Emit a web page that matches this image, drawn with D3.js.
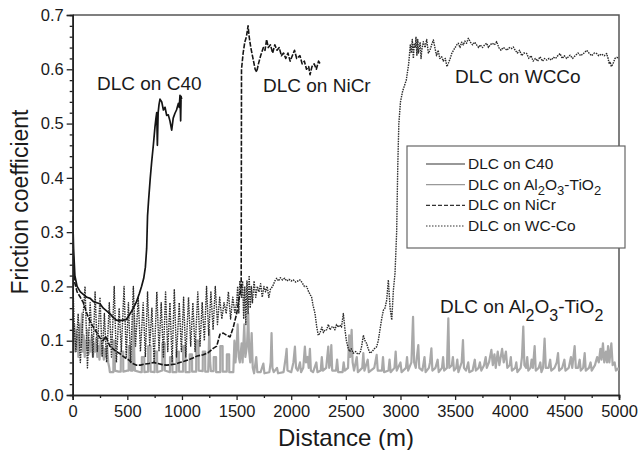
<!DOCTYPE html>
<html>
<head>
<meta charset="utf-8">
<script src="https://cdn.jsdelivr.net/npm/d3@7"></script>
<style>
  body { margin: 0; background: #fff; }
  svg { font-family: "Liberation Sans", Arial, sans-serif; }
</style>
</head>
<body>
<div id="chart"></div>
<script>
// tick labels
const xTicks = [0, 500, 1000, 1500, 2000, 2500, 3000, 3500, 4000, 4500, 5000];
const xMinor = [250, 750, 1250, 1750, 2250, 2750, 3250, 3750, 4250, 4750];
const yTicks = [0, 0.1, 0.2, 0.3, 0.4, 0.5, 0.6, 0.7];
const yMinor = [0.02, 0.04, 0.06, 0.08, 0.12, 0.14, 0.16, 0.18, 0.22, 0.24, 0.26, 0.28,
  0.32, 0.34, 0.36, 0.38, 0.42, 0.44, 0.46, 0.48, 0.52, 0.54, 0.56, 0.58, 0.62, 0.64, 0.66, 0.68];

// DLC on C40  [distance, friction]
const c40 = [[0,0.33],[8,0.27],[20,0.22],[40,0.2],[70,0.19],[100,0.185],[130,0.18],[160,0.178],[190,0.172],
  [220,0.17],[250,0.168],[280,0.16],[310,0.155],[340,0.15],[370,0.143],[400,0.138],[430,0.137],[460,0.138],
  [490,0.139],[520,0.148],[550,0.158],[580,0.17],[610,0.187],[630,0.2],[650,0.215],[665,0.235],[677,0.27],
  [685,0.33],[695,0.36],[710,0.4],[723,0.43],[738,0.46],[753,0.494],[762,0.51],[769,0.52],[775,0.46],
  [782,0.52],[790,0.535],[799,0.545],[815,0.54],[830,0.525],[845,0.53],[860,0.515],[875,0.516],[890,0.505],
  [906,0.488],[920,0.51],[936,0.519],[950,0.525],[967,0.537],[975,0.53],[982,0.552],[988,0.505],[992,0.55],[997,0.545]];

// DLC on Al2O3-TiO2
const alTi = [[0,0.15],[8,0.1],[15,0.13],[22,0.08],[30,0.12],[38,0.09],[45,0.11],[52,0.07],[60,0.1],[68,0.13],
  [75,0.09],[85,0.15],[92,0.08],[100,0.11],[110,0.07],[118,0.1],[126,0.085],[135,0.12],[145,0.075],[155,0.1],
  [165,0.08],[175,0.11],[185,0.07],[195,0.095],[205,0.08],[215,0.105],[225,0.07],[235,0.09],[245,0.065],
  [255,0.1],[265,0.075],[275,0.09],[285,0.065],[295,0.085],[305,0.07],[315,0.09],[325,0.06],[335,0.05],
  [340,0.042],[372,0.042],[373,0.1],[385,0.1],[386,0.045],[420,0.043],[440,0.043],[441,0.08],[462,0.08],
  [463,0.043],[500,0.045],[512,0.045],[513,0.09],[530,0.09],[531,0.045],[550,0.045],[558,0.15],[565,0.06],
  [570,0.045],[620,0.042],[632,0.042],[633,0.07],[655,0.07],[656,0.042],[690,0.043],[691,0.09],[712,0.09],
  [713,0.043],[750,0.042],[751,0.08],[772,0.08],[773,0.042],[820,0.045],[821,0.095],[842,0.095],[843,0.045],
  [890,0.042],[891,0.07],[912,0.07],[913,0.042],[950,0.042],[951,0.08],[972,0.08],[973,0.043],[1010,0.043],
  [1011,0.09],[1032,0.09],[1033,0.042],[1070,0.042],[1071,0.075],[1092,0.075],[1093,0.043],[1130,0.043],
  [1131,0.1],[1152,0.1],[1153,0.045],[1190,0.044],[1191,0.08],[1212,0.08],[1213,0.043],[1240,0.043],
  [1250,0.12],[1258,0.06],[1265,0.044],[1290,0.044],[1291,0.07],[1312,0.07],[1313,0.042],[1350,0.042],
  [1351,0.09],[1372,0.09],[1373,0.043],[1410,0.043],[1411,0.075],[1432,0.075],[1433,0.042],[1470,0.042],
  [1480,0.1],[1490,0.06],[1500,0.09],[1510,0.13],[1520,0.07],[1530,0.06],[1546,0.095],[1555,0.06],[1570,0.13],
  [1580,0.07],[1595,0.09],[1607,0.15],[1615,0.08],[1625,0.06],[1638,0.114],[1648,0.05],[1660,0.04],[1680,0.07],
  [1690,0.042],[1720,0.042],[1745,0.058],[1755,0.04],[1800,0.042],[1812,0.06],[1820,0.114],[1828,0.05],
  [1840,0.042],[1870,0.05],[1880,0.04],[1930,0.042],[1950,0.07],[1958,0.085],[1966,0.045],[2000,0.042],
  [2020,0.06],[2034,0.089],[2044,0.05],[2060,0.045],[2080,0.06],[2090,0.042],[2110,0.05],[2125,0.089],
  [2135,0.06],[2150,0.07],[2160,0.05],[2171,0.085],[2180,0.045],[2200,0.042],[2230,0.06],[2240,0.042],
  [2270,0.045],[2280,0.07],[2290,0.045],[2320,0.05],[2339,0.089],[2348,0.05],[2360,0.06],[2367,0.092],
  [2375,0.045],[2410,0.045],[2420,0.065],[2430,0.042],[2470,0.042],[2480,0.06],[2490,0.045],[2520,0.05],
  [2530,0.11],[2540,0.07],[2553,0.12],[2562,0.06],[2575,0.045],[2600,0.07],[2610,0.042],[2650,0.05],
  [2660,0.077],[2670,0.045],[2700,0.065],[2710,0.042],[2760,0.05],[2782,0.074],[2792,0.045],[2830,0.045],
  [2840,0.07],[2850,0.042],[2890,0.045],[2900,0.065],[2910,0.042],[2945,0.05],[2956,0.08],[2966,0.045],
  [3000,0.06],[3010,0.042],[3050,0.05],[3060,0.07],[3070,0.045],[3100,0.06],[3115,0.144],[3125,0.06],
  [3140,0.05],[3150,0.07],[3163,0.092],[3172,0.05],[3200,0.045],[3220,0.07],[3230,0.042],[3260,0.05],
  [3270,0.06],[3283,0.086],[3292,0.045],[3320,0.05],[3340,0.065],[3350,0.042],[3380,0.05],[3390,0.07],
  [3400,0.045],[3425,0.05],[3438,0.141],[3447,0.05],[3470,0.055],[3480,0.07],[3490,0.045],[3510,0.05],
  [3520,0.065],[3530,0.042],[3560,0.06],[3572,0.101],[3581,0.05],[3600,0.045],[3620,0.06],[3630,0.042],
  [3660,0.045],[3680,0.065],[3690,0.045],[3715,0.05],[3727,0.06],[3740,0.045],[3765,0.055],[3780,0.07],
  [3790,0.05],[3810,0.06],[3832,0.083],[3845,0.055],[3860,0.075],[3872,0.05],[3890,0.08],[3905,0.055],
  [3930,0.085],[3945,0.06],[3965,0.08],[3978,0.05],[4000,0.055],[4010,0.07],[4020,0.045],[4050,0.05],
  [4060,0.06],[4070,0.042],[4100,0.05],[4112,0.07],[4124,0.126],[4134,0.055],[4150,0.05],[4160,0.07],
  [4170,0.045],[4190,0.05],[4200,0.065],[4212,0.05],[4228,0.09],[4238,0.045],[4265,0.05],[4280,0.06],
  [4290,0.042],[4305,0.05],[4319,0.104],[4330,0.05],[4355,0.05],[4370,0.065],[4380,0.045],[4410,0.05],
  [4430,0.06],[4442,0.077],[4452,0.045],[4480,0.05],[4500,0.065],[4510,0.045],[4540,0.05],[4560,0.07],
  [4572,0.05],[4594,0.09],[4605,0.05],[4625,0.05],[4640,0.065],[4650,0.045],[4672,0.05],[4686,0.077],
  [4696,0.045],[4725,0.05],[4740,0.06],[4750,0.045],[4780,0.055],[4800,0.07],[4815,0.06],[4830,0.085],
  [4840,0.065],[4853,0.095],[4865,0.06],[4880,0.08],[4890,0.06],[4900,0.09],[4912,0.06],[4930,0.095],
  [4942,0.055],[4960,0.06],[4972,0.045],[4991,0.049],[5000,0.045]];

// DLC on NiCr
const niCr = [[0,0.28],[15,0.21],[40,0.19],[70,0.18],[97,0.17],[130,0.15],[160,0.135],[189,0.125],[220,0.115],
  [250,0.105],[280,0.1],[300,0.108],[320,0.1],[340,0.09],[370,0.085],[400,0.08],[433,0.076],[470,0.07],
  [510,0.065],[550,0.058],[585,0.055],[620,0.055],[660,0.057],[700,0.058],[740,0.06],[780,0.058],[820,0.056],
  [860,0.055],[900,0.056],[940,0.057],[980,0.06],[1020,0.062],[1060,0.065],[1100,0.068],[1140,0.072],
  [1195,0.074],[1240,0.078],[1286,0.086],[1318,0.09],[1348,0.112],[1378,0.114],[1410,0.11],[1440,0.107],
  [1470,0.125],[1501,0.15],[1520,0.175],[1535,0.19],[1542,0.2],[1545,0.6],[1560,0.63],[1575,0.65],
  [1590,0.66],[1605,0.68],[1615,0.66],[1630,0.64],[1650,0.62],[1670,0.6],[1684,0.595],[1700,0.61],
  [1720,0.625],[1745,0.64],[1760,0.635],[1775,0.655],[1790,0.64],[1810,0.645],[1830,0.63],[1850,0.645],
  [1870,0.635],[1890,0.64],[1910,0.625],[1930,0.63],[1950,0.62],[1970,0.63],[1990,0.615],[2010,0.625],
  [2030,0.635],[2050,0.62],[2080,0.625],[2100,0.61],[2120,0.615],[2140,0.6],[2160,0.605],[2172,0.59],
  [2190,0.605],[2210,0.61],[2230,0.6],[2250,0.615],[2265,0.61]];

// DLC on WC-Co
const wcCo = [[0,0.22],[15,0.12],[30,0.08],[50,0.15],[70,0.06],[90,0.13],[113,0.2],[135,0.05],[160,0.17],
  [185,0.07],[205,0.19],[225,0.08],[250,0.18],[270,0.07],[290,0.15],[310,0.06],[335,0.17],[355,0.07],
  [380,0.2],[400,0.06],[425,0.16],[445,0.08],[470,0.2],[490,0.07],[510,0.17],[530,0.06],[555,0.2],[575,0.09],
  [600,0.18],[620,0.08],[645,0.17],[665,0.07],[685,0.19],[705,0.09],[725,0.16],[745,0.06],[770,0.19],
  [790,0.08],[810,0.17],[830,0.07],[850,0.19],[870,0.08],[890,0.17],[910,0.06],[930,0.195],[950,0.07],
  [975,0.17],[995,0.08],[1015,0.18],[1035,0.07],[1060,0.18],[1080,0.09],[1100,0.17],[1120,0.08],[1145,0.19],
  [1165,0.09],[1185,0.17],[1205,0.1],[1225,0.2],[1245,0.11],[1265,0.19],[1285,0.12],[1305,0.2],[1325,0.13],
  [1345,0.18],[1365,0.14],[1385,0.17],[1405,0.15],[1425,0.19],[1445,0.14],[1465,0.18],[1485,0.15],
  [1500,0.17],[1510,0.2],[1520,0.15],[1530,0.21],[1545,0.18],[1555,0.21],[1565,0.14],[1575,0.2],[1585,0.13],
  [1595,0.21],[1605,0.15],[1615,0.22],[1625,0.16],[1635,0.2],[1645,0.17],[1660,0.21],[1675,0.18],[1690,0.2],
  [1705,0.19],[1720,0.205],[1735,0.18],[1750,0.2],[1765,0.19],[1780,0.2],[1795,0.18],[1810,0.195],[1830,0.2],
  [1850,0.21],[1867,0.215],[1885,0.21],[1900,0.216],[1920,0.212],[1940,0.215],[1960,0.21],[1980,0.213],
  [2000,0.21],[2020,0.212],[2040,0.208],[2060,0.21],[2080,0.212],[2100,0.207],[2120,0.2],[2141,0.2],
  [2160,0.19],[2187,0.18],[2200,0.165],[2218,0.15],[2233,0.126],[2248,0.11],[2263,0.114],[2280,0.125],
  [2295,0.115],[2310,0.12],[2324,0.12],[2340,0.13],[2355,0.12],[2370,0.125],[2385,0.126],[2400,0.12],
  [2415,0.13],[2430,0.125],[2446,0.129],[2460,0.125],[2477,0.15],[2485,0.135],[2492,0.12],[2505,0.1],
  [2522,0.086],[2535,0.08],[2550,0.085],[2568,0.077],[2590,0.08],[2610,0.075],[2630,0.077],[2645,0.09],
  [2660,0.11],[2675,0.1],[2690,0.095],[2705,0.085],[2721,0.077],[2740,0.08],[2760,0.085],[2782,0.089],
  [2797,0.1],[2812,0.12],[2828,0.14],[2843,0.156],[2858,0.16],[2874,0.175],[2889,0.212],[2905,0.16],
  [2920,0.138],[2935,0.193],[2950,0.224],[2965,0.3],[2975,0.42],[2985,0.5],[3000,0.54],[3020,0.56],
  [3053,0.58],[3075,0.61],[3090,0.645],[3099,0.63],[3108,0.655],[3118,0.62],[3126,0.648],[3135,0.64],
  [3142,0.66],[3150,0.625],[3158,0.655],[3165,0.63],[3180,0.65],[3188,0.62],[3195,0.635],[3209,0.651],
  [3225,0.64],[3240,0.655],[3255,0.63],[3270,0.635],[3285,0.645],[3301,0.654],[3315,0.64],[3330,0.625],
  [3345,0.635],[3360,0.62],[3377,0.623],[3392,0.615],[3410,0.62],[3425,0.605],[3438,0.611],[3455,0.62],
  [3469,0.629],[3485,0.635],[3500,0.64],[3515,0.645],[3529,0.648],[3545,0.64],[3560,0.65],[3575,0.645],
  [3590,0.652],[3605,0.648],[3621,0.657],[3640,0.65],[3660,0.645],[3680,0.65],[3697,0.645],[3715,0.64],
  [3730,0.645],[3750,0.64],[3770,0.645],[3789,0.648],[3805,0.64],[3820,0.645],[3840,0.648],[3860,0.645],
  [3880,0.651],[3900,0.64],[3920,0.635],[3940,0.64],[3957,0.638],[3975,0.635],[3995,0.64],[4015,0.638],
  [4033,0.641],[4050,0.635],[4070,0.63],[4090,0.635],[4110,0.625],[4130,0.63],[4155,0.629],[4175,0.62],
  [4195,0.625],[4215,0.615],[4235,0.62],[4255,0.615],[4277,0.623],[4300,0.615],[4320,0.62],[4338,0.617],
  [4360,0.62],[4380,0.617],[4400,0.622],[4420,0.62],[4440,0.625],[4460,0.629],[4480,0.62],[4500,0.625],
  [4520,0.62],[4552,0.626],[4575,0.62],[4600,0.625],[4625,0.63],[4650,0.625],[4680,0.63],[4704,0.635],
  [4725,0.63],[4750,0.625],[4775,0.63],[4796,0.629],[4815,0.625],[4840,0.628],[4865,0.625],[4887,0.629],
  [4900,0.62],[4910,0.61],[4918,0.614],[4930,0.605],[4945,0.61],[4963,0.62],[4980,0.622],[5000,0.62]];

const series = [
  { name: "DLC on C40", data: c40, color: "#151515", width: 1.7, dash: null, legendWidth: 1.2 },
  { name: "DLC on Al2O3-TiO2", data: alTi, color: "#a9a9a9", width: 2.2, dash: null, legendWidth: 1.2 },
  { name: "DLC on NiCr", data: niCr, color: "#151515", width: 1.6, dash: "5,1.5", legendWidth: 1.2 },
  { name: "DLC on WC-Co", data: wcCo, color: "#2a2a2a", width: 1.4, dash: "1.5,1", legendWidth: 1.1 }
];

const W = 638, H = 450;
const svg = d3.select("#chart").append("svg").attr("width", W).attr("height", H);

const x = d3.scaleLinear().domain([0, 5000]).range([72.7, 619]);
const y = d3.scaleLinear().domain([0, 0.7]).range([395, 15]);

svg.append("defs").append("clipPath").attr("id", "clip")
  .append("rect").attr("x", 72.7).attr("y", 15).attr("width", 619 - 72.7).attr("height", 380);

// frame (top and right)
svg.append("path")
  .attr("d", `M72.7,15H619V395`)
  .attr("fill", "none").attr("stroke", "#555").attr("stroke-width", 1.5);

const line = d3.line().x(d => x(d[0])).y(d => y(d[1]));

const plot = svg.append("g").attr("clip-path", "url(#clip)");
// gray first so the dark lines sit on top
[1, 3, 2, 0].forEach(i => {
  const s = series[i];
  plot.append("path")
    .datum(s.data)
    .attr("d", line)
    .attr("fill", "none")
    .attr("stroke", s.color)
    .attr("stroke-width", s.width)
    .attr("stroke-dasharray", s.dash)
    .attr("stroke-linejoin", "round");
});

// axes
svg.append("g").attr("transform", "translate(0,395)")
  .call(d3.axisBottom(x).tickValues(xTicks).tickSize(5).tickPadding(5).tickFormat(d3.format("d")));
svg.append("g").attr("transform", "translate(0,395)")
  .call(d3.axisBottom(x).tickValues(xMinor).tickSize(3).tickFormat(""));
svg.append("g").attr("transform", "translate(72.7,0)")
  .call(d3.axisLeft(y).tickValues(yTicks).tickSize(6).tickPadding(3).tickFormat(d3.format(".1f")));
svg.append("g").attr("transform", "translate(72.7,0)")
  .call(d3.axisLeft(y).tickValues(yMinor).tickSize(3).tickFormat(""));

svg.selectAll(".domain").attr("stroke", "#222").attr("stroke-width", 1.6);
svg.selectAll(".tick line").attr("stroke", "#222").attr("stroke-width", 1.3);
svg.selectAll(".tick text").attr("fill", "#1a1a1a").style("font-size", "16.5px")
  .style("font-family", "'Liberation Sans', Arial, sans-serif");

// axis titles
svg.append("text")
  .attr("transform", "translate(28,202) rotate(-90)")
  .attr("text-anchor", "middle")
  .style("font-size", "23px").attr("fill", "#1a1a1a")
  .text("Friction coefficient");
svg.append("text")
  .attr("x", 346).attr("y", 446)
  .attr("text-anchor", "middle")
  .style("font-size", "24px").attr("fill", "#1a1a1a")
  .text("Distance (m)");

// annotations (sub = baseline shift, subSize = subscript font size)
function addLabel(px, py, parts, size, subSize) {
  const t = svg.append("text").attr("x", px).attr("y", py)
    .style("font-size", size + "px").attr("fill", "#1a1a1a");
  parts.forEach(p => {
    const ts = t.append("tspan").text(p.t);
    if (p.sub) ts.attr("dy", p.sub);
    if (p.sub > 0) ts.style("font-size", subSize + "px");
  });
  return t;
}
addLabel(97, 90, [{ t: "DLC on C40" }], 19);
addLabel(263, 92, [{ t: "DLC on NiCr" }], 19);
addLabel(455, 83, [{ t: "DLC on WCCo" }], 19);
addLabel(440, 313, [
  { t: "DLC on Al" }, { t: "2", sub: 8 }, { t: "O", sub: -8 }, { t: "3", sub: 8 },
  { t: "-TiO", sub: -8 }, { t: "2", sub: 8 }
], 19, 16);

// legend
const lg = svg.append("g");
lg.append("rect").attr("x", 407).attr("y", 146).attr("width", 218).attr("height", 102)
  .attr("fill", "#fff").attr("stroke", "#666").attr("stroke-width", 1.2);
const legendNames = [
  [{ t: "DLC on C40" }],
  [{ t: "DLC on Al" }, { t: "2", sub: 5 }, { t: "O", sub: -5 }, { t: "3", sub: 5 }, { t: "-TiO", sub: -5 }, { t: "2", sub: 5 }],
  [{ t: "DLC on NiCr" }],
  [{ t: "DLC on WC-Co" }]
];
const legendY = d3.scaleLinear().domain([0, 3]).range([169, 231]);
series.forEach((s, i) => {
  const yy = legendY(i);
  lg.append("line").attr("x1", 426).attr("x2", 465).attr("y1", yy - 5).attr("y2", yy - 5)
    .attr("stroke", i === 1 ? "#999" : "#333").attr("stroke-width", s.legendWidth)
    .attr("stroke-dasharray", i === 2 ? "4,2" : (i === 3 ? "1.5,1.5" : null));
  const t = lg.append("text").attr("x", 468).attr("y", yy).style("font-size", "15.5px").attr("fill", "#1a1a1a");
  legendNames[i].forEach(p => {
    const ts = t.append("tspan").text(p.t);
    if (p.sub) ts.attr("dy", p.sub);
    if (p.sub > 0) ts.style("font-size", "13px");
  });
});
</script>
</body>
</html>
